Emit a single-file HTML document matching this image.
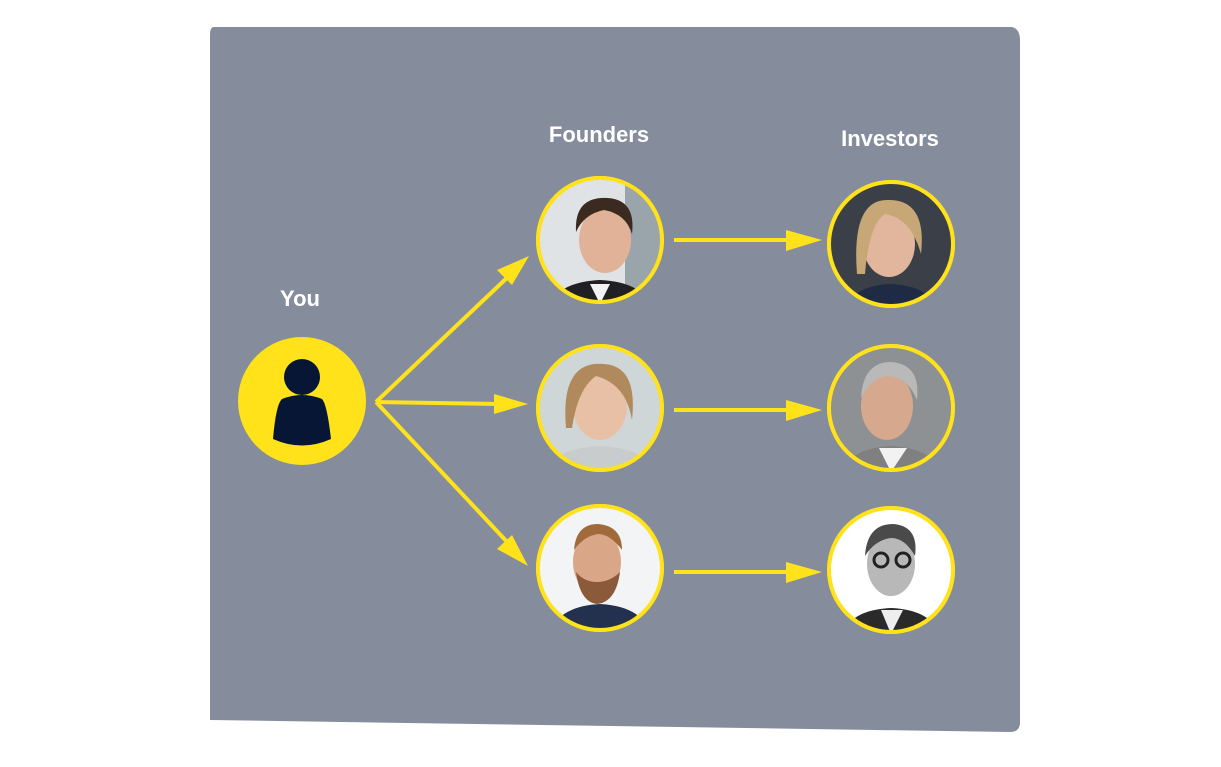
<!DOCTYPE html>
<html><head><style>
html,body{margin:0;padding:0;background:#fff;}
body{width:1221px;height:762px;position:relative;overflow:hidden;font-family:"Liberation Sans",sans-serif;}
</style></head><body>
<svg width="1221" height="762" viewBox="0 0 1221 762" xmlns="http://www.w3.org/2000/svg">
<defs>
<clipPath id="c"><circle cx="0" cy="0" r="61"/></clipPath>
<g id="person">
</g>
</defs>
<path d="M214 27 L1012 27 Q1020 29 1020 40 L1020 724 Q1019 732 1010 732 L210 720 L210 35 Q210 27 214 27Z" fill="#858d9d"/>
<g fill="#fff" font-weight="bold" font-size="22" text-anchor="middle">
<text x="599" y="142">Founders</text>
<text x="890" y="146">Investors</text>
<text x="300" y="306">You</text>
</g>
<!-- You -->
<circle cx="302" cy="401" r="64" fill="#ffe21a"/>
<circle cx="302" cy="377" r="18" fill="#071634"/>
<path d="M282 399 Q302 391 322 399 Q327 404 331 439 Q302 452 273 439 Q276 404 282 399Z" fill="#071634"/>
<!-- arrows -->
<g stroke="#ffe21a" stroke-width="4" fill="none">
<line x1="376" y1="402" x2="510" y2="275"/>
<line x1="376" y1="402" x2="500" y2="404"/>
<line x1="376" y1="402" x2="510" y2="545"/>
<line x1="674" y1="240" x2="795" y2="240"/>
<line x1="674" y1="410" x2="795" y2="410"/>
<line x1="674" y1="572" x2="795" y2="572"/>
</g>
<g fill="#ffe21a">
<polygon points="529,256 497,270 512,285"/>
<polygon points="528,404 494,394 494,414"/>
<polygon points="528,566 497,549 512,535"/>
<polygon points="822,240 786,230 786,251"/>
<polygon points="822,410 786,400 786,421"/>
<polygon points="822,572 786,562 786,583"/>
</g>
<!-- portraits -->
<g transform="translate(600,240)">
<circle r="64" fill="#ffe21a"/><g clip-path="url(#c)"><rect x="-64" y="-64" width="128" height="128" fill="#dfe3e6"/><rect x="25" y="-64" width="40" height="128" fill="#9aa4ab"/>
<path d="M-50 64 Q-40 42 0 40 Q40 42 50 64Z" fill="#1f1f24"/><path d="M-10 44 L0 64 L10 44Z" fill="#f2f2f2"/>
<ellipse cx="5" cy="0" rx="26" ry="33" fill="#e2b298"/><path d="M-24 -8 Q-26 -44 8 -42 Q36 -40 32 -6 Q26 -26 4 -30 Q-16 -26 -24 -8Z" fill="#3b2a20"/></g>
<circle r="62" fill="none" stroke="#ffe21a" stroke-width="4"/></g>
<g transform="translate(600,408)">
<circle r="64" fill="#ffe21a"/><g clip-path="url(#c)"><rect x="-64" y="-64" width="128" height="128" fill="#cfd6d8"/>
<path d="M-55 64 Q-45 40 0 38 Q45 40 55 64Z" fill="#c9cccc"/>
<ellipse cx="0" cy="-2" rx="27" ry="34" fill="#e8c0a6"/><path d="M-34 20 Q-40 -48 4 -44 Q38 -42 32 12 Q26 -24 -4 -32 Q-22 -20 -28 20Z" fill="#b08a5c"/></g>
<circle r="62" fill="none" stroke="#ffe21a" stroke-width="4"/></g>
<g transform="translate(600,568)">
<circle r="64" fill="#ffe21a"/><g clip-path="url(#c)"><rect x="-64" y="-64" width="128" height="128" fill="#f3f4f5"/>
<path d="M-50 64 Q-40 38 0 36 Q40 38 50 64Z" fill="#23304e"/>
<ellipse cx="-3" cy="-6" rx="24" ry="32" fill="#d9a788"/><path d="M-24 4 Q-20 34 -3 36 Q16 34 20 4 Q10 14 -3 14 Q-16 14 -24 4Z" fill="#8a5a3a"/><path d="M-26 -18 Q-24 -44 -2 -44 Q22 -42 22 -18 Q10 -34 -2 -34 Q-16 -32 -26 -18Z" fill="#a06a3a"/></g>
<circle r="62" fill="none" stroke="#ffe21a" stroke-width="4"/></g>
<g transform="translate(891,244)">
<circle r="64" fill="#ffe21a"/><g clip-path="url(#c)"><rect x="-64" y="-64" width="128" height="128" fill="#3a3f48"/>
<path d="M-45 64 Q-38 42 0 40 Q38 42 45 64Z" fill="#1f2a44"/>
<ellipse cx="-2" cy="0" rx="26" ry="33" fill="#e1b69c"/><path d="M-34 30 Q-40 -46 -2 -44 Q36 -44 30 10 Q20 -26 -6 -30 Q-22 -20 -26 30Z" fill="#c8a777"/></g>
<circle r="62" fill="none" stroke="#ffe21a" stroke-width="4"/></g>
<g transform="translate(891,408)">
<circle r="64" fill="#ffe21a"/><g clip-path="url(#c)"><rect x="-64" y="-64" width="128" height="128" fill="#8e9193"/>
<path d="M-50 64 Q-40 40 0 38 Q40 40 50 64Z" fill="#808080"/><path d="M-12 40 L0 64 L16 40Z" fill="#f2f2f2"/>
<ellipse cx="-4" cy="-2" rx="26" ry="34" fill="#d6a88e"/><path d="M-30 -10 Q-28 -46 0 -46 Q30 -44 26 -8 Q16 -32 -4 -32 Q-20 -30 -30 -10Z" fill="#b9b9b9"/></g>
<circle r="62" fill="none" stroke="#ffe21a" stroke-width="4"/></g>
<g transform="translate(891,570)">
<circle r="64" fill="#ffe21a"/><g clip-path="url(#c)"><rect x="-64" y="-64" width="128" height="128" fill="#ffffff"/>
<path d="M-48 64 Q-40 40 0 38 Q40 40 48 64Z" fill="#2a2a2a"/><path d="M-10 40 L0 64 L12 40Z" fill="#eee"/>
<ellipse cx="0" cy="-6" rx="24" ry="32" fill="#b8b8b8"/><path d="M-26 -14 Q-24 -46 2 -46 Q28 -44 24 -14 Q14 -32 0 -32 Q-16 -30 -26 -14Z" fill="#4a4a4a"/>
<g fill="none" stroke="#222" stroke-width="3"><circle cx="-10" cy="-10" r="7"/><circle cx="12" cy="-10" r="7"/></g></g>
<circle r="62" fill="none" stroke="#ffe21a" stroke-width="4"/></g>
</svg>
</body></html>
